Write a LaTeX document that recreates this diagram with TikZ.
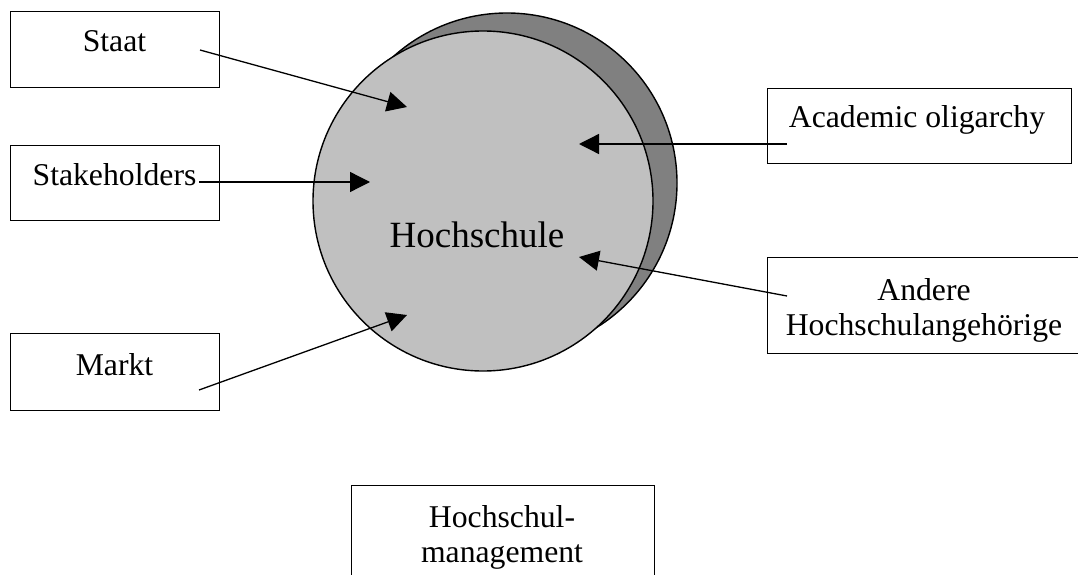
\documentclass[tikz,border=0pt]{standalone}
\usepackage{fontspec}
\setmainfont{Liberation Serif}
\usetikzlibrary{arrows.meta}
\definecolor{lightcirc}{HTML}{C0C0C0}
\definecolor{darkcirc}{HTML}{808080}
\begin{document}
\begin{tikzpicture}[x=1pt,y=-1pt,
  box/.style={draw=black,line width=1.4pt,fill=white,anchor=north west,inner sep=0pt},
  lbl/.style={anchor=base,inner sep=0pt,font=\fontsize{31.7}{35}\selectfont},
  arr/.style={line width=1.3pt,-{Triangle[length=20pt,width=20pt]}},
  circ/.style={circle,draw=black,line width=1.4pt,minimum size=340pt,inner sep=0pt}]
\useasboundingbox (0,0) rectangle (1078,575);
% circles
\node[circ,fill=darkcirc] (back) at (507,183) {};
\node[circ,fill=lightcirc] (hs) at (483,201) {};
\node[anchor=base,inner sep=0pt,font=\fontsize{37}{40}\selectfont] (hstxt) at (477,247) {Hochschule};
% boxes
\node[box,minimum width=209pt,minimum height=76pt] (staat) at (10,11) {};
\node[lbl] (staattxt) at (114.5,52) {Staat};
\node[box,minimum width=209pt,minimum height=75pt] (stake) at (10,145) {};
\node[lbl] (staketxt) at (114.5,185) {Stakeholders};
\node[box,minimum width=209pt,minimum height=77pt] (markt) at (10,333) {};
\node[lbl] (markttxt) at (114.5,375) {Markt};
\node[box,minimum width=304pt,minimum height=75pt] (acad) at (767,88) {};
\node[lbl] (acadtxt) at (917,128) {Academic oligarchy};
\node[box,minimum width=314pt,minimum height=96pt] (andere) at (767,257) {};
\node[lbl,align=center] (anderetxt) at (924,335) {Andere\\Hochschulangehörige};
\node[box,minimum width=303pt,minimum height=110pt] (mgmt) at (351,485) {};
\node[lbl,align=center] (mgmttxt) at (502,562) {Hochschul-\\management};
% arrow endpoints
\coordinate (staatS) at (200,50);
\coordinate (staatE) at (407,107);
\coordinate (stakeS) at (199,182);
\coordinate (stakeE) at (370,182);
\coordinate (marktS) at (199,390);
\coordinate (marktE) at (407,315);
\coordinate (acadS) at (787,144);
\coordinate (acadE) at (579,144);
\coordinate (andereS) at (787,296);
\coordinate (andereE) at (579,257);
\draw[arr] (staatS) -- (staatE);
\draw[arr] (stakeS) -- (stakeE);
\draw[arr] (marktS) -- (marktE);
\draw[arr] (acadS) -- (acadE);
\draw[arr] (andereS) -- (andereE);
\end{tikzpicture}
\end{document}
